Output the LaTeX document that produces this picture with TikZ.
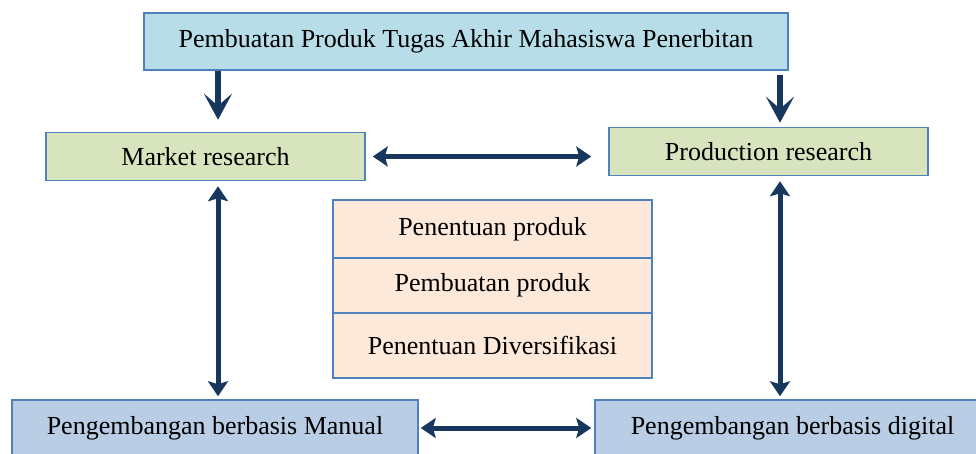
\documentclass[tikz,border=0pt]{standalone}
\usepackage{fontspec}
\setmainfont{Liberation Serif}
\usetikzlibrary{arrows.meta}

\definecolor{boxline}{RGB}{79,129,189}
\definecolor{topfill}{RGB}{183,222,232}
\definecolor{resfill}{RGB}{215,228,189}
\definecolor{stepfill}{RGB}{253,233,217}
\definecolor{devfill}{RGB}{185,205,229}
\definecolor{arrowblue}{RGB}{23,55,94}

\begin{document}
\begin{tikzpicture}[x=1pt,y=-1pt,
      every node/.style={draw=boxline,line width=1.5pt,inner sep=0pt,
        font=\fontsize{26}{31}\selectfont},
      topbox/.style={fill=topfill,minimum width=644pt,minimum height=57pt},
      resbox/.style={fill=resfill,minimum width=319pt,minimum height=48pt},
      stepbox/.style={fill=stepfill,minimum width=319pt},
      devbox/.style={fill=devfill,minimum height=56pt},
      arr/.style={draw=arrowblue,line width=6pt,
        -{Stealth[length=26pt 0,width=28pt 0,inset=12pt 0]}},
      dblarr/.style={draw=arrowblue,line width=5pt,
        {Stealth[length=15pt 0,width=20pt 0,inset=3pt 0]}-{Stealth[length=15pt 0,width=20pt 0,inset=3pt 0]}}]
    \useasboundingbox (0,0) rectangle (976,454);
    \node[topbox] (top) at (466,41.5) {Pembuatan Produk Tugas Akhir Mahasiswa Penerbitan};
    \node[resbox] (mr) at (205.5,156.5) {Market research};
    \node[resbox] (pr) at (768.5,151.5) {Production research};
    % tahapan di tengah
    \node[stepbox,minimum height=58pt] (tentu) at (492.5,229) {Penentuan produk};
    \node[stepbox,minimum height=55pt] (buat) at (492.5,285.5) {Pembuatan produk};
    \node[stepbox,minimum height=65pt] (diver) at (492.5,345.5) {Penentuan Diversifikasi};
    \node[devbox,minimum width=406pt] (manual) at (215,428) {Pengembangan berbasis Manual};
    \node[devbox,minimum width=395pt] (digital) at (792.5,428) {Pengembangan berbasis digital};
    \coordinate (lx) at (218,0);
    \coordinate (rx) at (780,0);
    \draw[arr,shorten >=12pt] (top.south -| lx) -- (mr.north -| lx);
    \draw[arr,shorten <=4pt,shorten >=4pt] (top.south -| rx) -- (pr.north -| rx);
    \draw[dblarr,shorten <=7pt,shorten >=17pt] (mr.east) -- (pr.west |- mr.east);
    \draw[dblarr,shorten <=5pt,shorten >=3pt] (mr.south -| lx) -- (manual.north -| lx);
    \draw[dblarr,shorten <=5pt,shorten >=3pt] (pr.south -| rx) -- (digital.north -| rx);
    \draw[dblarr,shorten <=2pt,shorten >=3pt] (manual.east) -- (digital.west);
\end{tikzpicture}
\end{document}
